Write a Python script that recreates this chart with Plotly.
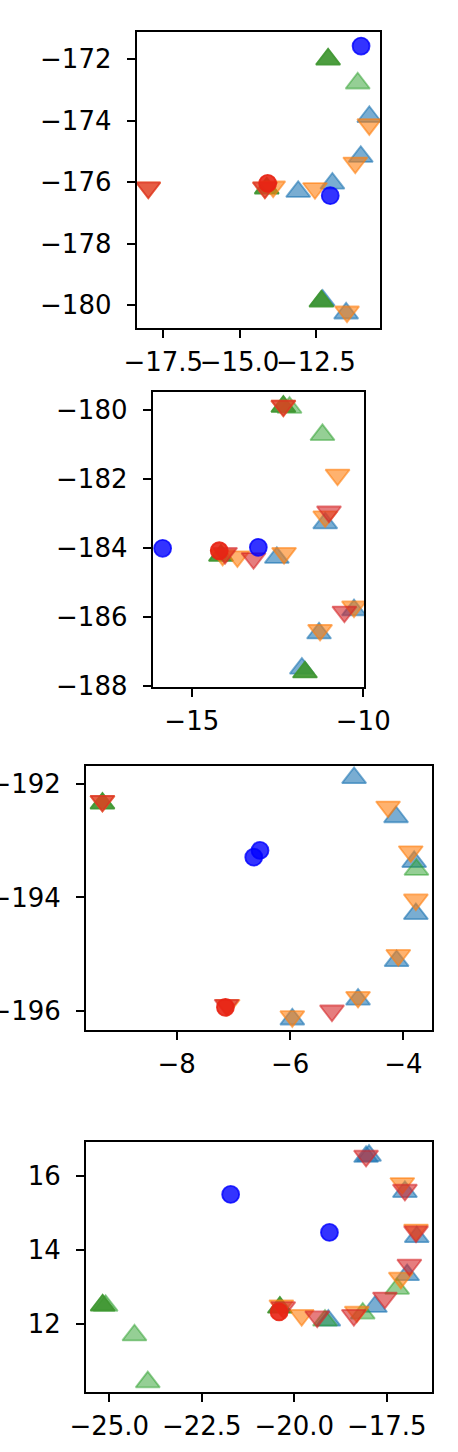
import plotly.graph_objects as go

# ---------------- data ----------------
# Panel 1
p1_blue_up_x = [-10.75, -11.03, -13.08, -11.96, -12.28, -11.51]
p1_blue_up_y = [-173.87, -175.17, -176.31, -176.04, -179.85, -180.27]
p1_lgreen_up_x = [-11.13]
p1_lgreen_up_y = [-172.78]
p1_green_up_x = [-12.1, -14.11, -12.32]
p1_green_up_y = [-172.0, -176.2, -179.88]
p1_orange_dn_x = [-10.75, -11.21, -17.99, -13.9, -12.53, -11.48, -14.17]
p1_orange_dn_y = [-174.12, -175.37, -176.18, -176.15, -176.2, -180.22, -176.18]
p1_red_dn_x = [-17.99, -14.17]
p1_red_dn_y = [-176.18, -176.18]
p1_blue_circ_x = [-11.02, -12.03]
p1_blue_circ_y = [-171.57, -176.44]
p1_red_circ_x = [-14.08]
p1_red_circ_y = [-176.04]

# Panel 2
p2_blue_up_x = [-12.52, -11.11, -10.27, -11.29, -11.79]
p2_blue_up_y = [-184.28, -183.28, -185.8, -186.47, -187.49]
p2_lgreen_up_x = [-12.15, -11.19]
p2_lgreen_up_y = [-179.93, -180.72]
p2_green_up_x = [-12.33, -14.15, -11.7]
p2_green_up_y = [-179.9, -184.22, -187.6]
p2_orange_dn_x = [-10.75, -11.11, -13.67, -12.31, -10.27, -11.26, -12.33, -14.1]
p2_orange_dn_y = [-181.88, -183.09, -184.25, -184.15, -185.7, -186.38, -179.88, -184.2]
p2_red_dn_x = [-12.33, -11.0, -14.03, -13.2, -10.55]
p2_red_dn_y = [-179.88, -182.95, -184.15, -184.3, -185.85]
p2_blue_circ_x = [-15.85, -13.06]
p2_blue_circ_y = [-184.01, -183.98]
p2_red_circ_x = [-14.2]
p2_red_circ_y = [-184.08]

# Panel 3
p3_blue_up_x = [-4.87, -4.13, -3.81, -3.78, -4.12, -4.8, -5.96]
p3_blue_up_y = [-191.89, -192.58, -193.37, -194.29, -195.12, -195.8, -196.15]
p3_lgreen_up_x = [-3.77]
p3_lgreen_up_y = [-193.51]
p3_green_up_x = [-9.31]
p3_green_up_y = [-192.34]
p3_orange_dn_x = [-4.27, -3.87, -3.78, -4.09, -4.8, -5.96, -7.1, -9.31]
p3_orange_dn_y = [-192.4, -193.19, -194.04, -195.02, -195.76, -196.1, -195.9, -192.3]
p3_red_dn_x = [-9.31, -7.12, -5.26]
p3_red_dn_y = [-192.3, -195.9, -196.0]
p3_blue_circ_x = [-6.53, -6.64]
p3_blue_circ_y = [-193.17, -193.29]
p3_red_circ_x = [-7.14]
p3_red_circ_y = [-195.94]

# Panel 4
p4_blue_up_x = [-18.06, -17.98, -17.01, -16.69, -16.95, -17.82, -19.08]
p4_blue_up_y = [16.53, 16.56, 15.58, 14.36, 13.33, 12.47, 12.1]
p4_lgreen_up_x = [-24.32, -23.96, -17.22, -18.15, -19.17, -25.1]
p4_lgreen_up_y = [11.7, 10.43, 12.96, 12.29, 12.1, 12.5]
p4_green_up_x = [-25.18, -20.39]
p4_green_up_y = [12.51, 12.45]
p4_orange_dn_x = [-17.08, -16.71, -17.12, -18.31, -19.8, -20.35]
p4_orange_dn_y = [15.81, 14.55, 13.25, 12.33, 12.24, 12.5]
p4_red_dn_x = [-18.06, -17.01, -16.71, -16.89, -17.55, -18.39, -19.38, -20.3]
p4_red_dn_y = [16.55, 15.63, 14.5, 13.6, 12.71, 12.24, 12.2, 12.45]
p4_blue_circ_x = [-21.72, -19.05]
p4_blue_circ_y = [15.51, 14.48]
p4_red_circ_x = [-20.41]
p4_red_circ_y = [12.33]

# tick values / labels
p1_xticks = [-17.5, -15.0, -12.5]
p1_xtext = ["\u221217.5", "\u221215.0", "\u221212.5"]
p1_yticks = [-172, -174, -176, -178, -180]
p2_xticks = [-15, -10]
p2_xtext = ["\u221215", "\u221210"]
p2_yticks = [-180, -182, -184, -186, -188]
p3_xticks = [-8, -6, -4]
p3_xtext = ["\u22128", "\u22126", "\u22124"]
p3_yticks = [-192, -194, -196]
p4_xticks = [-25.0, -22.5, -20.0, -17.5]
p4_xtext = ["\u221225.0", "\u221222.5", "\u221220.0", "\u221217.5"]
p4_yticks = [12, 14, 16]

# ---------------- layout constants ----------------
W, H = 458, 1452
# pixel boxes (left, right, top, bottom) and data ranges
boxes = [
    (136.7, 380.0, 32.3, 327.7),
    (152.7, 364.3, 391.7, 686.7),
    (86.0, 432.3, 766.0, 1030.0),
    (86.0, 432.3, 1142.3, 1391.7),
]
xranges = [(-18.37, -10.40), (-16.14, -9.97), (-9.60, -3.49), (-25.63, -16.27)]
yranges = [(-180.74, -171.12), (-188.02, -179.47), (-196.34, -191.68), (10.17, 16.92)]

def ylab(v):
    s = f"{abs(v):g}"
    return ("\u2212" + s) if v < 0 else s

panels = [
    dict(bu=(p1_blue_up_x, p1_blue_up_y), lg=(p1_lgreen_up_x, p1_lgreen_up_y), gu=(p1_green_up_x, p1_green_up_y),
         od=(p1_orange_dn_x, p1_orange_dn_y), rd=(p1_red_dn_x, p1_red_dn_y),
         bc=(p1_blue_circ_x, p1_blue_circ_y), rc=(p1_red_circ_x, p1_red_circ_y),
         xt=(p1_xticks, p1_xtext), yt=p1_yticks),
    dict(bu=(p2_blue_up_x, p2_blue_up_y), lg=(p2_lgreen_up_x, p2_lgreen_up_y), gu=(p2_green_up_x, p2_green_up_y),
         od=(p2_orange_dn_x, p2_orange_dn_y), rd=(p2_red_dn_x, p2_red_dn_y),
         bc=(p2_blue_circ_x, p2_blue_circ_y), rc=(p2_red_circ_x, p2_red_circ_y),
         xt=(p2_xticks, p2_xtext), yt=p2_yticks),
    dict(bu=(p3_blue_up_x, p3_blue_up_y), lg=(p3_lgreen_up_x, p3_lgreen_up_y), gu=(p3_green_up_x, p3_green_up_y),
         od=(p3_orange_dn_x, p3_orange_dn_y), rd=(p3_red_dn_x, p3_red_dn_y),
         bc=(p3_blue_circ_x, p3_blue_circ_y), rc=(p3_red_circ_x, p3_red_circ_y),
         xt=(p3_xticks, p3_xtext), yt=p3_yticks),
    dict(bu=(p4_blue_up_x, p4_blue_up_y), lg=(p4_lgreen_up_x, p4_lgreen_up_y), gu=(p4_green_up_x, p4_green_up_y),
         od=(p4_orange_dn_x, p4_orange_dn_y), rd=(p4_red_dn_x, p4_red_dn_y),
         bc=(p4_blue_circ_x, p4_blue_circ_y), rc=(p4_red_circ_x, p4_red_circ_y),
         xt=(p4_xticks, p4_xtext), yt=p4_yticks),
]

styles = [
    ("bu", "triangle-up", 21, "rgba(31,119,180,0.6)"),
    ("lg", "triangle-up", 21, "rgba(44,160,44,0.5)"),
    ("gu", "triangle-up", 21, "rgba(62,150,48,0.92)"),
    ("od", "triangle-down", 21, "rgba(255,127,14,0.6)"),
    ("rd", "triangle-down", 21, "rgba(214,39,40,0.6)"),
    ("bc", "circle", 17, "rgba(0,0,255,0.8)"),
    ("rc", "circle", 17, "rgba(232,35,20,0.9)"),
]

fig = go.Figure()
font = dict(family="DejaVu Sans", size=26, color="black")
layout = dict(width=W, height=H, margin=dict(l=0, r=0, t=0, b=0, pad=0, autoexpand=False),
              paper_bgcolor="white", plot_bgcolor="white", showlegend=False, template="none")

for i, p in enumerate(panels):
    n = "" if i == 0 else str(i + 1)
    for key, sym, size, col in styles:
        xs, ys = p[key]
        fig.add_trace(go.Scatter(
            x=xs, y=ys, mode="markers", xaxis="x" + n, yaxis="y" + n,
            marker=dict(symbol=sym, size=size, color=col, line=dict(color=col, width=1.8)),
            hoverinfo="skip", cliponaxis=True))
    l, r, t, b = boxes[i]
    axcommon = dict(showgrid=False, zeroline=False, showline=True, linecolor="black", linewidth=2,
                    mirror=True, ticks="outside", ticklen=8, tickwidth=2, tickcolor="black",
                    tickfont=font, tickmode="array", automargin=False, tickangle=0)
    layout["xaxis" + n] = dict(axcommon, domain=[l / W, r / W], range=list(xranges[i]),
                               anchor="y" + n, tickvals=p["xt"][0], ticktext=p["xt"][1],
                               ticklabelstandoff=2)
    layout["yaxis" + n] = dict(axcommon, domain=[1 - b / H, 1 - t / H], range=list(yranges[i]),
                               anchor="x" + n, tickvals=p["yt"], ticktext=[ylab(v) for v in p["yt"]],
                               ticklabelstandoff=10)

fig.update_layout(**layout)
fig.write_html("out.html", config={"displayModeBar": False},
               post_script="document.body.style.margin='0';document.body.style.overflow='hidden';")
